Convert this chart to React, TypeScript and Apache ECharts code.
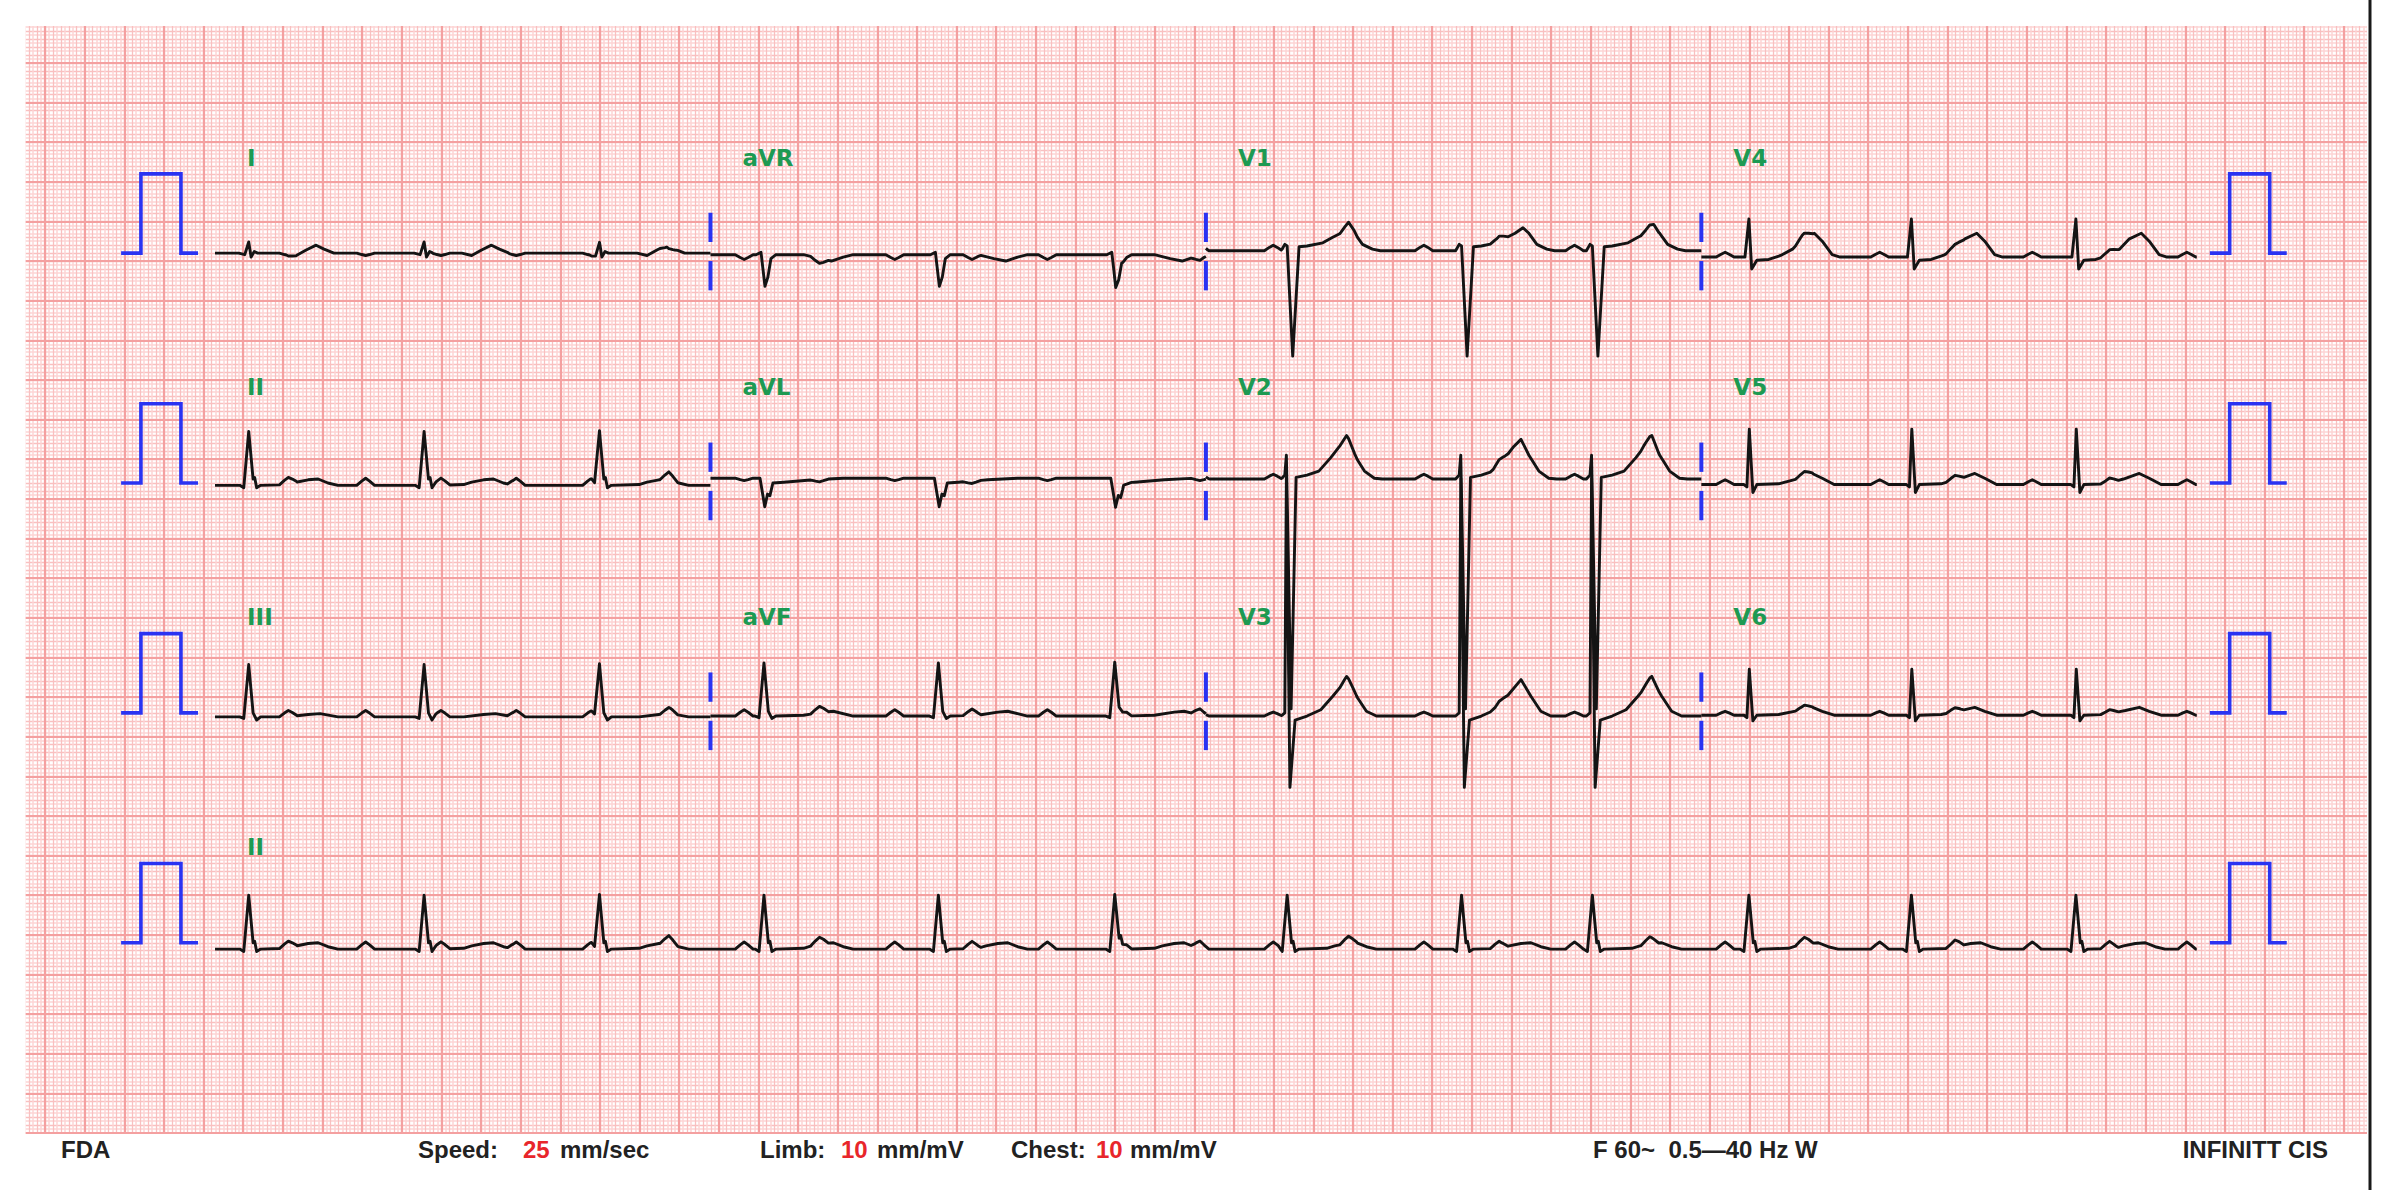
import React, { useEffect, useRef } from "react";
import * as echarts from "echarts";

// ---------- paper geometry (mm) ----------
const PX_PER_MM = 7.927;
const X0_PX = 45; // x of the 0 mm major line
const Y0_PX = 1133; // y of the 0 mm major line (bottom edge of paper)
const T0_MM = 21.45; // x position of t = 0 s
const MM_PER_S = 25;
const MM_PER_MV = 10;
const ROW_BASE_MM = [111, 82, 53, 24];
const COL_WINDOWS = [[0, 2.5], [2.5, 5], [5, 7.5], [7.5, 10]];
const LAYOUT = [
  ["I", "aVR", "V1", "V4"],
  ["II", "aVL", "V2", "V5"],
  ["III", "aVF", "V3", "V6"],
];

// ---------- rhythm (seconds) ----------
const BEAT_TIMES = [0.17, 1.055, 1.94, 2.77, 3.65, 4.54, 5.41, 6.29, 6.95, 7.74, 8.56, 9.39];
const ATRIAL_TIMES = [0.37, 0.76, 1.14, 1.52, 1.9, 2.29, 2.67, 3.05, 3.43, 3.82, 4.2, 4.58, 4.97, 5.34, 5.72, 6.1, 6.48, 6.86, 7.24, 7.62, 8.02, 8.4, 8.78, 9.17, 9.56, 9.95];
const P_WAVE = [[-0.045, 0], [-0.02, 0.6], [0, 1], [0.02, 0.6], [0.045, 0]];

// ---------- QRS-T shapes per lead: [s from R peak, mV] ----------
const QRST_I = [[-0.05, 0], [-0.02, -0.02], [0, 0.14], [0.012, -0.05], [0.028, 0.02], [0.045, 0], [0.19, 0], [0.24, -0.03], [0.29, 0.04], [0.34, 0.1], [0.38, 0.05], [0.43, 0]];
const QRST_II = [[-0.045, 0], [-0.025, -0.03], [0, 0.68], [0.022, 0.08], [0.03, 0.1], [0.04, -0.03], [0.06, 0], [0.2, 0.01], [0.24, 0.04], [0.3, 0.07], [0.35, 0.08], [0.4, 0.03], [0.45, 0]];
const QRST_III = [[-0.045, 0], [-0.025, -0.02], [0, 0.66], [0.022, 0.05], [0.04, -0.04], [0.06, 0], [0.2, 0], [0.3, 0.03], [0.36, 0.04], [0.45, 0]];
const QRST_AVR = [[-0.04, 0], [-0.015, 0.03], [0.005, -0.4], [0.02, -0.28], [0.035, -0.05], [0.06, 0], [0.2, 0], [0.28, -0.05], [0.34, -0.08], [0.4, -0.03], [0.45, 0]];
const QRST_AVL = [[-0.02, 0], [0.004, -0.36], [0.018, -0.2], [0.03, -0.22], [0.045, -0.06], [0.1, -0.05], [0.25, -0.02], [0.4, 0]];
const QRST_AVF = [[-0.045, 0], [-0.025, -0.02], [0, 0.67], [0.022, 0.06], [0.04, -0.03], [0.06, 0], [0.2, 0.01], [0.3, 0.05], [0.35, 0.06], [0.45, 0]];
const QRST_V1 = [[-0.03, 0], [-0.012, 0.08], [0, 0.06], [0.028, -1.33], [0.06, 0.05], [0.1, 0.06], [0.18, 0.1], [0.23, 0.17], [0.27, 0.22], [0.31, 0.29], [0.34, 0.22], [0.38, 0.08], [0.43, 0.02], [0.47, 0]];
const QRST_V2 = [[-0.03, 0], [-0.012, 0.05], [-0.004, 0.3], [0.02, -2.9], [0.045, 0.02], [0.1, 0.05], [0.16, 0.1], [0.22, 0.27], [0.26, 0.4], [0.3, 0.5], [0.34, 0.3], [0.39, 0.1], [0.44, 0.01], [0.48, 0]];
const QRST_V3 = [[-0.03, 0], [-0.012, 0.04], [-0.004, 3.0], [0.014, -0.9], [0.04, -0.05], [0.1, 0], [0.17, 0.08], [0.23, 0.25], [0.3, 0.46], [0.35, 0.25], [0.4, 0.06], [0.45, 0]];
const QRST_V4 = [[-0.02, 0], [0, 0.48], [0.014, -0.15], [0.04, -0.04], [0.1, -0.03], [0.16, 0.02], [0.22, 0.1], [0.27, 0.23], [0.33, 0.3], [0.37, 0.2], [0.42, 0.03], [0.46, 0]];
const QRST_V5 = [[-0.025, 0], [-0.01, -0.03], [0.002, 0.7], [0.02, -0.1], [0.04, 0], [0.15, 0.01], [0.24, 0.07], [0.32, 0.14], [0.37, 0.08], [0.43, 0]];
const QRST_V6 = [[-0.025, 0], [-0.01, -0.03], [0.002, 0.58], [0.02, -0.07], [0.04, 0], [0.15, 0.01], [0.25, 0.06], [0.32, 0.1], [0.37, 0.05], [0.43, 0]];

const LEAD_SHAPES: Record<string, number[][]> = {
  I: QRST_I, II: QRST_II, III: QRST_III, aVR: QRST_AVR, aVL: QRST_AVL, aVF: QRST_AVF,
  V1: QRST_V1, V2: QRST_V2, V3: QRST_V3, V4: QRST_V4, V5: QRST_V5, V6: QRST_V6,
};
const ATRIAL_AMP: Record<string, number> = {
  I: -0.03, II: 0.09, III: 0.08, aVR: -0.06, aVL: -0.03, aVF: 0.08,
  V1: 0.07, V2: 0.06, V3: 0.05, V4: 0.06, V5: 0.06, V6: 0.05,
};
const BASE_OFFSET: Record<string, number> = {
  I: 0, II: -0.03, III: -0.05, aVR: -0.02, aVL: 0.06, aVF: -0.04,
  V1: 0.03, V2: 0.05, V3: -0.04, V4: -0.05, V5: -0.02, V6: -0.03,
};
const RHYTHM_OFFSET = -0.08;

// ---------- calibration pulse (mm) ----------
const CAL_SHAPE = [[0, 0], [2.5, 0], [2.5, 10], [7.55, 10], [7.55, 0], [9.7, 0]];
const CAL_STARTS = [9.6, 273.1];
const MARKER_TIMES = [2.5, 5, 7.5];
const MARKER_SEGS = [[1.4, 5.1], [-1.0, -4.7]];

// ---------- footer ----------
const FOOTER = [
  { text: "FDA", x: 61, color: "#222" },
  { text: "Speed:", x: 418, color: "#222" },
  { text: "25", x: 523, color: "#e8262b" },
  { text: "mm/sec", x: 560, color: "#222" },
  { text: "Limb:", x: 760, color: "#222" },
  { text: "10", x: 841, color: "#e8262b" },
  { text: "mm/mV", x: 877, color: "#222" },
  { text: "Chest:", x: 1011, color: "#222" },
  { text: "10", x: 1096, color: "#e8262b" },
  { text: "mm/mV", x: 1130, color: "#222" },
  { text: "F 60~  0.5\u201440 Hz W", x: 1593, color: "#222" },
];
const FOOTER_RIGHT = "INFINITT CIS";

function pwl(verts: number[][], t: number): number {
  if (t <= verts[0][0] || t >= verts[verts.length - 1][0]) return 0;
  for (let i = 1; i < verts.length; i++) {
    if (t <= verts[i][0]) {
      const [ta, va] = verts[i - 1];
      const [tb, vb] = verts[i];
      return va + ((vb - va) * (t - ta)) / (tb - ta);
    }
  }
  return 0;
}

function leadTrace(lead: string, t0: number, t1: number, baseMm: number, offset: number) {
  const shape = LEAD_SHAPES[lead];
  const amp = ATRIAL_AMP[lead];
  const comps: number[][][] = [];
  BEAT_TIMES.forEach((b) => comps.push(shape.map(([dt, v]) => [b + dt, v])));
  ATRIAL_TIMES.forEach((a) => comps.push(P_WAVE.map(([dt, v]) => [a + dt, v * amp])));
  const set = new Set<number>([t0, t1]);
  comps.forEach((c) => c.forEach(([t]) => { if (t > t0 && t < t1) set.add(Math.round(t * 10000) / 10000); }));
  const times = Array.from(set).sort((a, b) => a - b);
  return times.map((t) => {
    let v = offset;
    comps.forEach((c) => { v += pwl(c, t); });
    return [T0_MM + t * MM_PER_S, baseMm + v * MM_PER_MV];
  });
}

const BLACK = "#141414";
const BLUE = "#2a33f2";
const GREEN = "#1d9a52";

function buildOption() {
  const gx = X0_PX - 5 * PX_PER_MM;
  const gy = Y0_PX - 140 * PX_PER_MM;
  const rect = { left: gx, top: gy, width: 300 * PX_PER_MM, height: 140 * PX_PER_MM };
  const hidden = { axisLine: { show: false }, axisTick: { show: false }, axisLabel: { show: false } };

  const series: any[] = [];
  const traceStyle = { color: BLACK, width: 2.9, join: "round" };
  LAYOUT.forEach((row, r) => {
    row.forEach((lead, c) => {
      const [t0, t1] = COL_WINDOWS[c];
      series.push({
        type: "line", xAxisIndex: 1, yAxisIndex: 1, showSymbol: false, z: 4,
        data: leadTrace(lead, t0, t1, ROW_BASE_MM[r], BASE_OFFSET[lead]),
        lineStyle: traceStyle,
      });
    });
  });
  series.push({
    type: "line", xAxisIndex: 1, yAxisIndex: 1, showSymbol: false, z: 4,
    data: leadTrace("II", 0, 10, ROW_BASE_MM[3], RHYTHM_OFFSET),
    lineStyle: traceStyle,
  });
  ROW_BASE_MM.forEach((b) => {
    CAL_STARTS.forEach((s) => {
      series.push({
        type: "line", xAxisIndex: 1, yAxisIndex: 1, showSymbol: false, z: 4,
        data: CAL_SHAPE.map(([dx, dy]) => [s + dx, b + dy]),
        lineStyle: { color: BLUE, width: 3.6, join: "miter" },
      });
    });
  });
  ROW_BASE_MM.slice(0, 3).forEach((b) => {
    MARKER_TIMES.forEach((t) => {
      MARKER_SEGS.forEach(([a, z]) => {
        const x = T0_MM + t * MM_PER_S;
        series.push({
          type: "line", xAxisIndex: 1, yAxisIndex: 1, showSymbol: false, z: 4,
          data: [[x, b + a], [x, b + z]],
          lineStyle: { color: BLUE, width: 4 },
        });
      });
    });
  });

  const px = (xmm: number) => X0_PX + xmm * PX_PER_MM;
  const py = (ymm: number) => Y0_PX - ymm * PX_PER_MM;
  const labelFont = 'bold 23px "DejaVu Sans", Verdana, sans-serif';
  const footFont = 'bold 24px "Liberation Sans", Arial, sans-serif';
  const graphics: any[] = [
    { type: "rect", z: 50, shape: { x: 0, y: 0, width: 25.6, height: 1190 }, style: { fill: "#fff" } },
    { type: "rect", z: 50, shape: { x: 2367, y: 0, width: 28, height: 1190 }, style: { fill: "#fff" } },
    { type: "rect", z: 50, shape: { x: 0, y: 0, width: 2395, height: 26 }, style: { fill: "#fff" } },
    { type: "rect", z: 50, shape: { x: 0, y: 1134, width: 2395, height: 56 }, style: { fill: "#fff" } },
    { type: "line", z: 60, shape: { x1: 2370, y1: 0, x2: 2370, y2: 1190 }, style: { stroke: "#1a1a1a", lineWidth: 3 } },
  ];
  const labelRows = [...LAYOUT.map((r) => r), ["II"]];
  labelRows.forEach((row, r) => {
    row.forEach((lead, c) => {
      graphics.push({
        type: "text", z: 60,
        x: px(T0_MM + COL_WINDOWS[c][0] * MM_PER_S) + 32,
        y: py(ROW_BASE_MM[r]) - 95.5,
        style: { text: lead, fill: GREEN, font: labelFont, align: "left", verticalAlign: "middle", textAlign: "left", textVerticalAlign: "middle" },
      });
    });
  });
  FOOTER.forEach((f) => {
    graphics.push({
      type: "text", z: 60, x: f.x, y: 1149.5,
      style: { text: f.text, fill: f.color, font: footFont, align: "left", verticalAlign: "middle", textAlign: "left", textVerticalAlign: "middle" },
    });
  });
  graphics.push({
    type: "text", z: 60, x: 2328, y: 1149.5,
    style: { text: FOOTER_RIGHT, fill: "#222", font: footFont, align: "right", verticalAlign: "middle", textAlign: "right", textVerticalAlign: "middle" },
  });

  return {
    animation: false,
    backgroundColor: "#fff",
    grid: [{ ...rect }, { ...rect }],
    xAxis: [
      {
        gridIndex: 0, type: "value", min: -5, max: 295, interval: 1, z: 0, ...hidden,
        splitLine: { show: true, lineStyle: { color: "#f9c0c0", width: 1.3 } },
        minorTick: { show: false, splitNumber: 2 },
        minorSplitLine: { show: true, lineStyle: { color: "#fcd5d5", width: 1.5 } },
      },
      {
        gridIndex: 1, type: "value", min: -5, max: 295, interval: 5, z: 1, ...hidden,
        splitLine: { show: true, lineStyle: { color: "#f4a0a0", width: 2.2 } },
      },
    ],
    yAxis: [
      {
        gridIndex: 0, type: "value", min: 0, max: 140, interval: 1, z: 0, ...hidden,
        splitLine: { show: true, lineStyle: { color: "#f9c0c0", width: 1.3 } },
        minorTick: { show: false, splitNumber: 2 },
        minorSplitLine: { show: true, lineStyle: { color: "#fcd5d5", width: 1.5 } },
      },
      {
        gridIndex: 1, type: "value", min: 0, max: 140, interval: 5, z: 1, ...hidden,
        splitLine: { show: true, lineStyle: { color: "#f4a0a0", width: 2.2 } },
      },
    ],
    series,
    graphic: graphics,
  };
}

export default function App() {
  const ref = useRef<HTMLDivElement>(null);
  useEffect(() => {
    document.body.style.margin = "0";
    const chart = echarts.init(ref.current!, undefined, { renderer: "svg", width: 2395, height: 1190 });
    chart.setOption(buildOption() as any);
    return () => chart.dispose();
  }, []);
  return <div ref={ref} style={{ width: 2395, height: 1190, background: "#fff" }} />;
}
